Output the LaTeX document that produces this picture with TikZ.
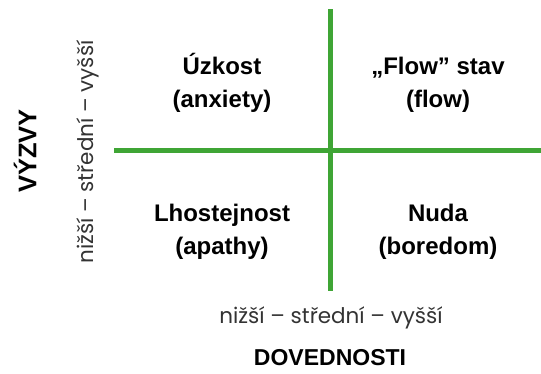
\documentclass[tikz,border=0pt]{standalone}
\usepackage{fontspec}
\setmainfont{Liberation Sans}
\newfontfamily\scalefont{Poppins}
\usepackage{xcolor}
\usetikzlibrary{positioning}
\definecolor{axisgreen}{RGB}{63,165,53}

\begin{document}
\begin{tikzpicture}[x=1pt, y=-1pt, node distance=2pt,
    axis/.style={line width=5pt, axisgreen},
    quad/.style={font=\fontsize{24}{28}\selectfont\bfseries, inner sep=0pt, anchor=base},
    scale label/.style={font=\scalefont\fontsize{21.5}{24}\selectfont, text=black!80, inner sep=0pt},
    axis title/.style={font=\fontsize{23}{27}\selectfont\bfseries, inner sep=0pt}]
    \useasboundingbox (0,0) rectangle (541,373);

    \coordinate (top) at (330,9);
    \coordinate (bottom) at (330,291);
    \coordinate (left) at (114,150);
    \coordinate (right) at (541,150);

    \draw[axis] (top) -- (bottom);
    \draw[axis] (left) -- (right);

    % quadrants
    \node[quad] (anx) at (222,74) {Úzkost};
    \node[quad] (anxen) at (222,107) {(anxiety)};
    \node[quad] (flow) at (438,74) {„Flow” stav};
    \node[quad] (flowen) at (438,107) {(flow)};
    \node[quad] (apa) at (222,221) {Lhostejnost};
    \node[quad] (apaen) at (222,254) {(apathy)};
    \node[quad] (bor) at (438,221) {Nuda};
    \node[quad] (boren) at (438,254) {(boredom)};

    % axes
    \node[scale label] (xscale) at (331,318) {nižší – střední – vyšší};
    \node[axis title] (xtitle) at (330,358) {DOVEDNOSTI};
    \node[scale label, rotate=90] (yscale) at (88,152) {nižší – střední – vyšší};
    \node[axis title, font=\fontsize{25.5}{30}\selectfont\bfseries, rotate=90] (ytitle) at (25,151) {VÝZVY};
\end{tikzpicture}
\end{document}
